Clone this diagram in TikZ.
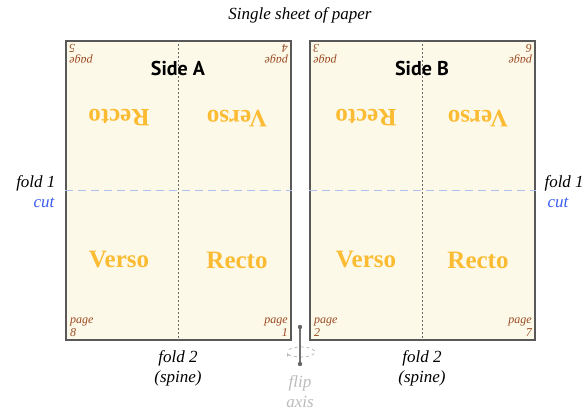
\documentclass[tikz,border=0pt]{standalone}
\usepackage{fontspec}
\setmainfont{Liberation Serif}
\newfontfamily\sidefont{PT Sans}
\usetikzlibrary{positioning,arrows.meta}
\definecolor{paper}{HTML}{FDF9E9}
\definecolor{pagebrown}{HTML}{9A4A22}
\definecolor{gold}{HTML}{FBBC33}
\definecolor{cutblue}{HTML}{3C5CF0}
\definecolor{cutgray}{HTML}{AEC0EE}
\definecolor{flipgray}{HTML}{BBBBBB}
\tikzset{
  sheet/.style={fill=paper, draw=black!65, line width=1.2pt, minimum width=225, minimum height=299, inner sep=0pt},
  foldline/.style={draw=black!60, dash pattern=on 2pt off 2pt, line width=0.5pt},
  cutline/.style={draw=cutgray, dash pattern=on 8pt off 5pt, line width=1.4pt},
  sidelabel/.style={font=\sidefont\bfseries\fontsize{20}{22}\selectfont},
  facelabel/.style={text=gold, font=\bfseries\fontsize{25}{27}\selectfont},
  pagelabel/.style={text=pagebrown, font=\itshape\fontsize{12}{13}\selectfont, inner sep=0pt},
  plainlabel/.style={font=\itshape\fontsize{17}{20}\selectfont, align=center},
}
\begin{document}
\begin{tikzpicture}[x=1pt,y=-1pt]
\clip (0,0) rectangle (582,409);

\node[plainlabel] (title) at (300,15) {Single sheet of paper};

\node[sheet] (sheetA) at (178.5,190.5) {};
\node[sheet] (sheetB) at (422.5,190.5) {};
\draw[foldline] (sheetA.north) -- (sheetA.south);
\draw[foldline] (sheetB.north) -- (sheetB.south);
\draw[cutline] (sheetA.west) -- (sheetA.east);
\draw[cutline] (sheetB.west) -- (sheetB.east);

\node[sidelabel] (sideA) at (178,69) {Side A};
\node[sidelabel] (sideB) at (422,69) {Side B};

\node[facelabel, rotate=180] (rectoA) at (119,118) {Recto};
\node[facelabel, rotate=180] (versoA) at (237,118) {Verso};
\node[facelabel] (versoA2) at (119,260) {Verso};
\node[facelabel] (rectoA2) at (237,260) {Recto};
\node[facelabel, rotate=180] (rectoB) at (366,118) {Recto};
\node[facelabel, rotate=180] (versoB) at (478,118) {Verso};
\node[facelabel] (versoB2) at (366,260) {Verso};
\node[facelabel] (rectoB2) at (478,260) {Recto};

\node[pagelabel, rotate=180, anchor=south east, align=right] (p5) at (69,44) {page\\5};
\node[pagelabel, rotate=180, anchor=south west, align=left] (p4) at (288,44) {page\\4};
\node[pagelabel, anchor=south west, align=left] (p8) at (70,337) {page\\8};
\node[pagelabel, anchor=south east, align=right] (p1) at (288,337) {page\\1};
\node[pagelabel, rotate=180, anchor=south east, align=right] (p3) at (313,44) {page\\3};
\node[pagelabel, rotate=180, anchor=south west, align=left] (p6) at (532,44) {page\\6};
\node[pagelabel, anchor=south west, align=left] (p2) at (314,337) {page\\2};
\node[pagelabel, anchor=south east, align=right] (p7) at (532,337) {page\\7};

\node[plainlabel, anchor=east] (foldL) at (59,183) {fold 1};
\node[plainlabel, anchor=east, text=cutblue] (cutL) at (58,203) {cut};
\node[plainlabel, anchor=west] (foldR) at (541,183) {fold 1};
\node[plainlabel, anchor=west, text=cutblue] (cutR) at (544,203) {cut};

\node[plainlabel] (spineA) at (178,368) {fold 2\\(spine)};
\node[plainlabel] (spineB) at (422,368) {fold 2\\(spine)};

\coordinate (axtop) at (300,327);
\coordinate (axbot) at (300,364);
\draw[flipgray, dashed, line width=0.8pt, -{Stealth[length=4pt]}] (301,352) ++(-150:14 and 5) arc (-150:172:14 and 5);
\draw[black!55, line width=1.3pt] (axtop) -- (axbot);
\fill[black!60] (axtop) circle (2.2) (axbot) circle (2.2);
\node[plainlabel, text=flipgray] (flip) at (300,392) {flip\\axis};
\end{tikzpicture}
\end{document}
